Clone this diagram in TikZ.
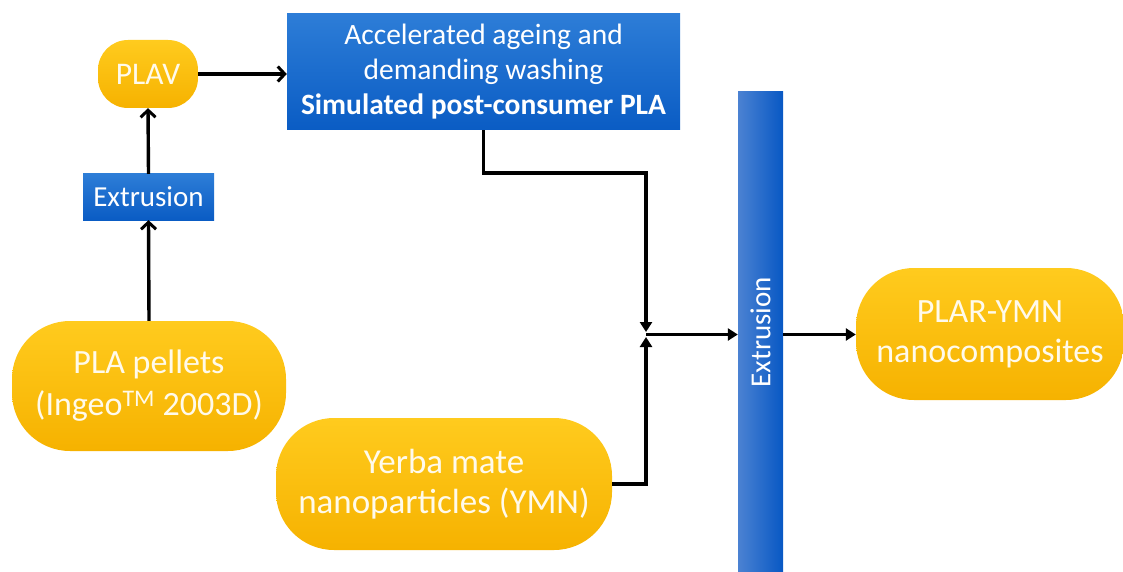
\documentclass[tikz,border=0pt]{standalone}
\usepackage{fontspec}
\setmainfont{Carlito}
\usetikzlibrary{arrows.meta,calc}
\definecolor{ylwtop}{RGB}{255,203,30}
\definecolor{ylwbot}{RGB}{246,178,0}
\definecolor{blutop}{RGB}{45,125,215}
\definecolor{blubot}{RGB}{10,92,196}
\definecolor{barleft}{RGB}{75,130,210}
\definecolor{barright}{RGB}{8,88,196}
\definecolor{txtw}{RGB}{255,250,235}
\tikzset{
  ybox/.style={top color=ylwtop,bottom color=ylwbot,draw=none,text=txtw,align=center,inner sep=0pt},
  bbox/.style={top color=blutop,bottom color=blubot,draw=none,text=white,align=center,inner sep=0pt},
  barb/.style={line width=3.4pt,-{Straight Barb[length=7pt,width=15pt,line width=3pt]}},
  tri/.style={line width=3.4pt,-{Triangle[length=10pt,width=12pt]}},
}
\begin{document}
\begin{tikzpicture}[x=1pt,y=-1pt]
\useasboundingbox (0,0) rectangle (1123,572);
% yellow nodes
\node[ybox,minimum width=100,minimum height=68,rounded corners=30pt,font=\fontsize{31.5}{36}\selectfont] (plav) at (148,74) {PLAV};
\node[ybox,minimum width=274,minimum height=130,rounded corners=58pt,font=\fontsize{34}{42}\selectfont] (pla) at (149,386) {PLA pellets\\(Ingeo\textsuperscript{TM} 2003D)};
\node[ybox,minimum width=336,minimum height=132,rounded corners=58pt,font=\fontsize{35}{40}\selectfont] (ymn) at (444,484) {Yerba mate\\nanoparticles (YMN)};
\node[ybox,minimum width=268,minimum height=132,rounded corners=58pt,font=\fontsize{34}{40}\selectfont] (out) at (990,334) {PLAR-YMN\\nanocomposites};
% blue nodes
\node[bbox,minimum width=131,minimum height=46,font=\fontsize{29}{32}\selectfont] (ext1) at (148.5,197) {Extrusion};
\node[bbox,minimum width=393,minimum height=116,font=\fontsize{29.5}{35}\selectfont] (big) at (483.5,72) {Accelerated ageing and\\demanding washing\\\textbf{Simulated post-consumer PLA}};
\node[rotate=90,left color=barleft,right color=barright,draw=none,text=white,inner sep=0pt,minimum width=480,minimum height=45,font=\fontsize{29}{32}\selectfont] (bar) at (760.5,332) {Extrusion};
% junction
\coordinate (junc) at (646,334.5);
\coordinate (jdown) at (646,332);
\coordinate (jup) at (646,337);
% connectors
\draw[barb] (pla.north) -- (ext1.south);
\draw[barb] (ext1.north) -- (plav.south);
\draw[barb] (plav.east) -- (plav.east -| big.west);
\draw[tri] (big.south) -- ++(0,43) -| (jdown);
\draw[tri] (ymn.east) -| (jup);
\draw[tri] (junc) -- (junc -| bar.north);
\draw[tri] (junc -| bar.south) -- (junc -| out.west);
\end{tikzpicture}
\end{document}
